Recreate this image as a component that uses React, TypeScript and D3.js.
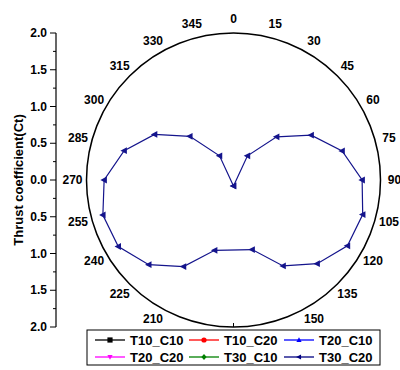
import React from "react";
import * as d3 from "d3";

const angleLabels = [0, 15, 30, 45, 60, 75, 90, 105, 120, 135, 150, 210, 225, 240, 255, 270, 285, 300, 315, 330, 345];
const radialTicks = [-2, -1.5, -1, -0.5, 0, 0.5, 1, 1.5, 2];
const radialMinor = [-1.75, -1.25, -0.75, -0.25, 0.25, 0.75, 1.25, 1.75];

const dataAngles = [0, 30, 45, 60, 75, 90, 105, 120, 135, 150, 165, 195, 210, 225, 240, 255, 270, 285, 300, 315, 330, 360];
const t30c20 = [-0.08, 0.38, 0.83, 1.22, 1.53, 1.75, 1.82, 1.79, 1.61, 1.35, 0.98, 0.99, 1.36, 1.63, 1.81, 1.84, 1.76, 1.54, 1.24, 0.84, 0.38, -0.08];

const seriesNames = ["T10_C10", "T10_C20", "T20_C10", "T20_C20", "T30_C10", "T30_C20"];
const seriesColors = ["#000000", "#ff0000", "#0000ff", "#ff00ff", "#008000", "#000080"];
const seriesSymbols = ["square", "circle", "up", "down", "diamond", "left"];

const FONT = "Arial, 'Liberation Sans', sans-serif";

function markerPath(kind: string, s: number) {
  switch (kind) {
    case "square":
      return `M${-s},${-s}H${s}V${s}H${-s}Z`;
    case "circle":
      return d3.symbol(d3.symbolCircle, s * s * 3.2)() as string;
    case "up":
      return `M0,${-s * 1.1}L${s},${s * 0.8}L${-s},${s * 0.8}Z`;
    case "down":
      return `M0,${s * 1.1}L${s},${-s * 0.8}L${-s},${-s * 0.8}Z`;
    case "diamond":
      return `M0,${-s * 1.2}L${s},0L0,${s * 1.2}L${-s},0Z`;
    case "left":
    default:
      return `M${-s * 1.1},0L${s * 0.8},${-s}L${s * 0.8},${s}Z`;
  }
}

export default function App() {
  const W = 400, H = 370;
  const cx = 233.5, cy = 180, R = 147;
  const r = d3.scaleLinear().domain([0, 2]).range([0, R]);
  const y = d3.scaleLinear().domain([-2, 2]).range([cy + R, cy - R]);
  const axisX = 56;

  const pt = (deg: number, v: number): [number, number] => {
    const a = (deg * Math.PI) / 180;
    const rr = r(v);
    return [cx + rr * Math.sin(a), cy - rr * Math.cos(a)];
  };

  const pts = dataAngles.map((a, i) => pt(a, t30c20[i]));
  const line = d3.line<[number, number]>()(pts) as string;

  const legendX = 87, legendY = 330, legendW = 293, legendH = 35;
  const colX = [95, 189, 284];
  const rowY = [340, 357];

  return (
    <svg width={W} height={H} style={{ position: "absolute", left: 0, top: 0, background: "#fff" }} fontFamily={FONT}>
      <rect x={0} y={0} width={W} height={H} fill="#fff" />
      {/* polar circle */}
      <circle cx={cx} cy={cy} r={R} fill="none" stroke="#000" strokeWidth={1.5} />
      <line x1={cx} x2={cx} y1={cy + R} y2={cy + R - 4} stroke="#000" strokeWidth={1} />

      {/* angle labels */}
      {angleLabels.map((a) => {
        const rad = (a * Math.PI) / 180;
        const lr = R + 14;
        return (
          <text key={a} x={cx + lr * Math.sin(rad)} y={cy - lr * Math.cos(rad)} textAnchor="middle" dominantBaseline="central" fontSize={12} fontWeight="bold">
            {a}
          </text>
        );
      })}

      {/* radial axis */}
      <line x1={axisX} x2={axisX} y1={y(2)} y2={y(-2)} stroke="#000" strokeWidth={1.2} />
      {radialTicks.map((t) => (
        <g key={t}>
          <line x1={axisX - 6} x2={axisX} y1={y(t)} y2={y(t)} stroke="#000" strokeWidth={1} />
          <text x={axisX - 9} y={y(t)} textAnchor="end" dominantBaseline="central" fontSize={12} fontWeight="bold">
            {Math.abs(t).toFixed(1)}
          </text>
        </g>
      ))}
      {radialMinor.map((t) => (
        <line key={t} x1={axisX - 3} x2={axisX} y1={y(t)} y2={y(t)} stroke="#000" strokeWidth={1} />
      ))}
      <text transform={`translate(18,${cy}) rotate(-90)`} textAnchor="middle" dominantBaseline="central" fontSize={13} fontWeight="bold">
        Thrust coefficient(Ct)
      </text>

      {/* series */}
      <path d={line} fill="none" stroke="#14148c" strokeWidth={1.2} />
      {pts.map((p, i) => (
        <path key={i} d={markerPath("left", 3.4)} transform={`translate(${p[0]},${p[1]})`} fill="#14148c" />
      ))}

      {/* legend */}
      <rect x={legendX} y={legendY} width={legendW} height={legendH} fill="#fff" stroke="#000" strokeWidth={1} />
      {seriesNames.map((name, i) => {
        const col = i % 3, row = Math.floor(i / 3);
        const x0 = colX[col], yy = rowY[row];
        return (
          <g key={name}>
            <line x1={x0} x2={x0 + 30} y1={yy} y2={yy} stroke={seriesColors[i]} strokeWidth={1.3} />
            <path d={markerPath(seriesSymbols[i], 2.6)} transform={`translate(${x0 + 15},${yy})`} fill={seriesColors[i]} />
            <text x={x0 + 35} y={yy} dominantBaseline="central" fontSize={13} fontWeight="bold">
              {name}
            </text>
          </g>
        );
      })}
    </svg>
  );
}
